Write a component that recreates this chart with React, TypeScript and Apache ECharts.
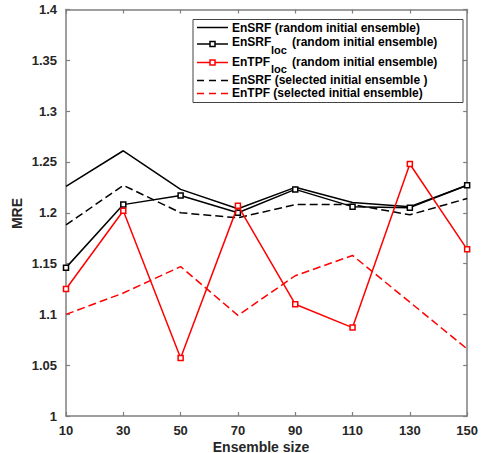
import React, { useEffect, useRef } from "react";
import * as echarts from "echarts";

const ensembleSizes = ["10", "30", "50", "70", "90", "110", "130", "150"];
const ensrfRandom = [1.226, 1.261, 1.223, 1.204, 1.225, 1.21, 1.206, 1.227];
const ensrfLocRandom = [1.146, 1.208, 1.217, 1.2, 1.223, 1.206, 1.205, 1.227];
const entpfLocRandom = [1.125, 1.202, 1.057, 1.207, 1.11, 1.087, 1.248, 1.164];
const ensrfSelected = [1.188, 1.227, 1.2, 1.195, 1.208, 1.208, 1.198, 1.214];
const entpfSelected = [1.1, 1.121, 1.147, 1.099, 1.138, 1.158, 1.112, 1.066];

const FONT = "'Liberation Sans', Arial, sans-serif";
const AXIS_COLOR = "#7f7f7f";
const TEXT_COLOR = "#262626";
const DASH = [8, 4];

export default function App() {
  const ref = useRef<HTMLDivElement>(null);
  useEffect(() => {
    document.body.style.margin = "0";
    if (!ref.current) return;
    const chart = echarts.init(ref.current, undefined, { renderer: "svg" });

    const axisLine = { show: true, lineStyle: { color: AXIS_COLOR, width: 1.5 } };
    const axisTick = { show: true, inside: true, length: 4, lineStyle: { color: AXIS_COLOR, width: 1.2 } };
    const axisLabel = { color: TEXT_COLOR, fontFamily: FONT, fontWeight: "bold" as const, fontSize: 13 };

    const legendText = (x: number, y: number, text: string, size = 12) => ({
      type: "text",
      x,
      y,
      style: { text, fontFamily: FONT, fontWeight: "bold", fontSize: size, fill: "#000", verticalAlign: "middle", align: "left" },
      z: 101,
    });
    const legendLine = (y: number, color: string, dashed: boolean) => ({
      type: "line",
      shape: { x1: 197, y1: y, x2: 228, y2: y },
      style: { stroke: color, lineWidth: 1.5, lineDash: dashed ? [7, 5] : null },
      z: 101,
    });
    const legendMarker = (y: number, color: string) => ({
      type: "rect",
      shape: { x: 210, y: y - 2.5, width: 5, height: 5 },
      style: { stroke: color, lineWidth: 1.5, fill: "#fff" },
      z: 102,
    });

    chart.setOption({
      animation: false,
      backgroundColor: "#fff",
      grid: { left: 66, right: 8, top: 9.5, bottom: 37, containLabel: false },
      xAxis: [
        {
          type: "category",
          data: ensembleSizes,
          boundaryGap: false,
          axisLine,
          axisTick: { ...axisTick, alignWithLabel: true },
          axisLabel: { ...axisLabel, margin: 8 },
          splitLine: { show: false },
        },
        {
          type: "category",
          data: ensembleSizes,
          boundaryGap: false,
          position: "top",
          axisLine,
          axisTick,
          axisLabel: { show: false },
          splitLine: { show: false },
        },
      ],
      yAxis: [
        {
          type: "value",
          min: 1,
          max: 1.4,
          interval: 0.05,
          axisLine,
          axisTick,
          axisLabel: { ...axisLabel, margin: 9 },
          splitLine: { show: false },
        },
        {
          type: "value",
          min: 1,
          max: 1.4,
          interval: 0.05,
          position: "right",
          axisLine,
          axisTick,
          axisLabel: { show: false },
          splitLine: { show: false },
        },
      ],
      series: [
        {
          name: "EnSRF (random initial ensemble)",
          type: "line",
          data: ensrfRandom,
          symbol: "none",
          lineStyle: { color: "#000", width: 1.5 },
          itemStyle: { color: "#000" },
          z: 3,
        },
        {
          name: "EnSRF loc (random initial ensemble)",
          type: "line",
          data: ensrfLocRandom,
          symbol: "rect",
          symbolSize: 5,
          showSymbol: true,
          lineStyle: { color: "#000", width: 1.5 },
          itemStyle: { color: "#fff", borderColor: "#000", borderWidth: 1.5 },
          z: 4,
        },
        {
          name: "EnTPF loc (random initial ensemble)",
          type: "line",
          data: entpfLocRandom,
          symbol: "rect",
          symbolSize: 5,
          showSymbol: true,
          lineStyle: { color: "#ff0000", width: 1.5 },
          itemStyle: { color: "#fff", borderColor: "#ff0000", borderWidth: 1.5 },
          z: 5,
        },
        {
          name: "EnSRF (selected initial ensemble )",
          type: "line",
          data: ensrfSelected,
          symbol: "none",
          lineStyle: { color: "#000", width: 1.5, type: DASH },
          itemStyle: { color: "#000" },
          z: 2,
        },
        {
          name: "EnTPF (selected initial ensemble)",
          type: "line",
          data: entpfSelected,
          symbol: "none",
          lineStyle: { color: "#ff0000", width: 1.5, type: DASH },
          itemStyle: { color: "#ff0000" },
          z: 2,
        },
      ],
      graphic: [
        {
          type: "text",
          x: 17,
          y: 213.5,
          rotation: Math.PI / 2,
          style: { text: "MRE", fontFamily: FONT, fontWeight: "bold", fontSize: 14, fill: TEXT_COLOR, align: "center", verticalAlign: "middle" },
        },
        {
          type: "text",
          x: 261,
          y: 446.5,
          style: { text: "Ensemble size", fontFamily: FONT, fontWeight: "bold", fontSize: 14, fill: TEXT_COLOR, align: "center", verticalAlign: "middle" },
        },
        {
          type: "rect",
          shape: { x: 193, y: 19.5, width: 270, height: 83 },
          style: { fill: "#fff", stroke: "#444", lineWidth: 1 },
          z: 100,
        },
        legendLine(27.5, "#000", false),
        legendText(232, 27.5, "EnSRF (random initial ensemble)"),
        legendLine(44, "#000", false),
        legendMarker(44, "#000"),
        legendText(232, 42, "EnSRF"),
        legendText(271, 49.5, "loc", 11),
        legendText(292, 42, "(random initial ensemble)"),
        legendLine(62.5, "#ff0000", false),
        legendMarker(62.5, "#ff0000"),
        legendText(232, 61.5, "EnTPF"),
        legendText(271, 68.5, "loc", 11),
        legendText(292, 61.5, "(random initial ensemble)"),
        legendLine(80.5, "#000", true),
        legendText(232, 80, "EnSRF (selected initial ensemble )"),
        legendLine(93.5, "#ff0000", true),
        legendText(232, 93, "EnTPF (selected initial ensemble)"),
      ],
    });
    return () => chart.dispose();
  }, []);
  return <div ref={ref} style={{ width: 481, height: 453 }} />;
}
